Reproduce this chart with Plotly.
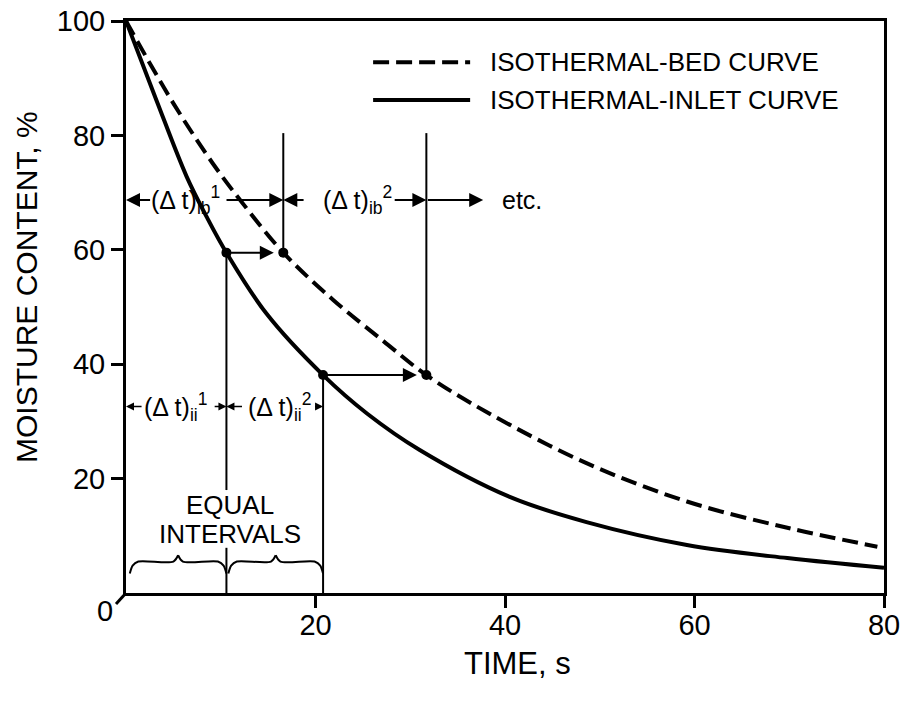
import plotly.graph_objects as go

FONT = "Liberation Sans, Arial, sans-serif"

# ---- data ----
bed_t = [0, 5, 9.2, 12.0, 16.6, 21.9, 27.2, 31.7, 38.1, 48.6, 59.2, 69.8, 79.3]
bed_y = [100, 85.6, 75.0, 68.8, 59.5, 51.2, 44.0, 38.1, 31.6, 22.7, 16.0, 11.4, 8.1]

inlet_t = [0, 3.2, 6.4, 8.5, 10.6, 14.8, 20.8, 25.5, 31.0, 40.5, 48.6, 59.2, 69.8, 80]
inlet_y = [100, 86.2, 72.8, 65.8, 59.5, 48.9, 38.1, 31.3, 25.0, 16.8, 12.4, 8.4, 6.1, 4.4]

step_y = [59.5, 38.1]          # moisture levels of the construction steps
inlet_step_t = [10.6, 20.8]     # times on isothermal-inlet curve
bed_step_t = [16.6, 31.7]       # matching times on isothermal-bed curve

ib_row_y = 68.7                 # level of the (Δt)ib dimension arrows
ii_row_y = 32.6                 # level of the (Δt)ii dimension arrows
bed_line_top = 80.4             # top of vertical lines from bed points
gap_top, gap_bottom = 18.0, 7.9 # break in first vertical line for text

x_ticks = [20, 40, 60, 80]
y_ticks = [20, 40, 60, 80, 100]

legend_labels = ["ISOTHERMAL-BED CURVE", "ISOTHERMAL-INLET CURVE"]

fig = go.Figure()

# curves
fig.add_trace(go.Scatter(x=bed_t, y=bed_y, mode="lines", name=legend_labels[0],
                         line=dict(color="black", width=4, dash="16px,7px",
                                   shape="spline", smoothing=1.0),
                         showlegend=False, hoverinfo="skip"))
fig.add_trace(go.Scatter(x=inlet_t, y=inlet_y, mode="lines", name=legend_labels[1],
                         line=dict(color="black", width=4, shape="spline", smoothing=1.0),
                         showlegend=False, hoverinfo="skip"))

# vertical construction lines
vx, vy = [], []
vx += [inlet_step_t[0], inlet_step_t[0], None, inlet_step_t[0], inlet_step_t[0], None]
vy += [step_y[0], gap_top, None, gap_bottom, 0, None]
vx += [inlet_step_t[1], inlet_step_t[1], None]
vy += [step_y[1], 0, None]
for t, yv in zip(bed_step_t, step_y):
    vx += [t, t, None]
    vy += [yv, bed_line_top, None]
fig.add_trace(go.Scatter(x=vx, y=vy, mode="lines",
                         line=dict(color="black", width=2),
                         showlegend=False, hoverinfo="skip"))

# braces for equal intervals
def brace(a, b, base=3.4, bar=5.5, tip=6.6):
    m = (a + b) / 2
    xs = [a, a + 0.3, a + 0.9, m - 0.5, m, None, m, m + 0.5, b - 0.9, b - 0.3, b]
    ys = [base, 4.8, bar, bar, tip, None, tip, bar, bar, 4.8, base]
    return xs, ys

bx, by = [], []
for a, b in [(0.4, inlet_step_t[0]), (inlet_step_t[0] + 0.2, inlet_step_t[1])]:
    xs, ys = brace(a, b)
    bx += xs + [None]
    by += ys + [None]
fig.add_trace(go.Scatter(x=bx, y=by, mode="lines",
                         line=dict(color="black", width=2, shape="spline", smoothing=0.8),
                         showlegend=False, hoverinfo="skip"))

# dots
fig.add_trace(go.Scatter(x=inlet_step_t + bed_step_t, y=step_y + step_y, mode="markers",
                         marker=dict(color="black", size=10),
                         showlegend=False, hoverinfo="skip"))

annotations = []

def arrow(tail, tip, yv, size=1.4, width=2):
    annotations.append(dict(x=tip, y=yv, ax=tail, ay=yv, xref="x", yref="y",
                            axref="x", ayref="y", text="", showarrow=True,
                            arrowhead=2, arrowsize=size, arrowwidth=width,
                            arrowcolor="black", standoff=0, startstandoff=0))

for ti, tb, yv in zip(inlet_step_t, bed_step_t, step_y):
    arrow(ti, tb - 1.0, yv)

# (Δt)ib row
arrow(2.7, 0, ib_row_y)
arrow(10.45, bed_step_t[0], ib_row_y)
arrow(18.9, bed_step_t[0], ib_row_y)
arrow(28.2, bed_step_t[1], ib_row_y)
arrow(bed_step_t[1], 37.7, ib_row_y)

# (Δt)ii row
arrow(1.8, 0, ii_row_y, size=1.0, width=1.6)
arrow(9.2, inlet_step_t[0], ii_row_y, size=1.0, width=1.6)
arrow(12.4, inlet_step_t[0], ii_row_y, size=1.0, width=1.6)
arrow(19.8, inlet_step_t[1], ii_row_y, size=1.0, width=1.6)

def label(x, y, text, size=25, xanchor="center", xref="x", yref="y", angle=0):
    annotations.append(dict(x=x, y=y, xref=xref, yref=yref, text=text, showarrow=False,
                            xanchor=xanchor, yanchor="middle", textangle=angle,
                            font=dict(family=FONT, size=size, color="black")))

label(6.3, ib_row_y, "(Δ t)<sub>ib</sub><sup>1</sup>")
label(24.4, ib_row_y, "(Δ t)<sub>ib</sub><sup>2</sup>")
label(39.5, ib_row_y, "etc.", xanchor="left")
label(5.2, ii_row_y, "(Δ t)<sub>ii</sub><sup>1</sup>")
label(16.2, ii_row_y, "(Δ t)<sub>ii</sub><sup>2</sup>")
label(11.0, 15.4, "EQUAL", size=26)
label(11.0, 10.3, "INTERVALS", size=26)

# axis titles and corner zero
label(-0.1306, 0.535, "MOISTURE CONTENT, %", size=30, xref="paper", yref="paper", angle=-90)
label(0.517, -0.124, "TIME, s", size=31, xref="paper", yref="paper")
label(-0.0277, -0.0315, "0", size=29, xref="paper", yref="paper")

# manual legend
leg_x0, leg_x1, leg_tx = 0.326, 0.454, 0.4776
leg_rows = [0.928, 0.862]
shapes = []
for lbl, yy, dash in zip(legend_labels, leg_rows, ["16px,7px", "solid"]):
    shapes.append(dict(type="line", xref="paper", yref="paper", x0=leg_x0, x1=leg_x1,
                       y0=yy, y1=yy, line=dict(color="black", width=4, dash=dash)))
    label(leg_tx, yy, lbl, size=26, xanchor="left", xref="paper", yref="paper")

# diagonal tick at origin
shapes.append(dict(type="line", xref="paper", yref="paper", x0=0, y0=0,
                   x1=-10 / 758, y1=-11 / 572, line=dict(color="black", width=3)))

fig.update_layout(
    width=906, height=703,
    margin=dict(l=126, r=22, t=21, b=110, autoexpand=False),
    paper_bgcolor="white", plot_bgcolor="white",
    font=dict(family=FONT, color="black"),
    annotations=annotations, shapes=shapes,
    showlegend=False,
)
axis_common = dict(showline=True, linewidth=3, linecolor="black", mirror=True,
                   ticks="outside", ticklen=12, tickwidth=3, tickcolor="black",
                   showgrid=False, zeroline=False, automargin=False,
                   tickfont=dict(family=FONT, size=29, color="black"))
fig.update_xaxes(range=[0, 80], tickvals=x_ticks, ticklabelstandoff=-8, **axis_common)
fig.update_yaxes(range=[0, 100], tickvals=y_ticks, **axis_common)

fig.write_html("out.html")
